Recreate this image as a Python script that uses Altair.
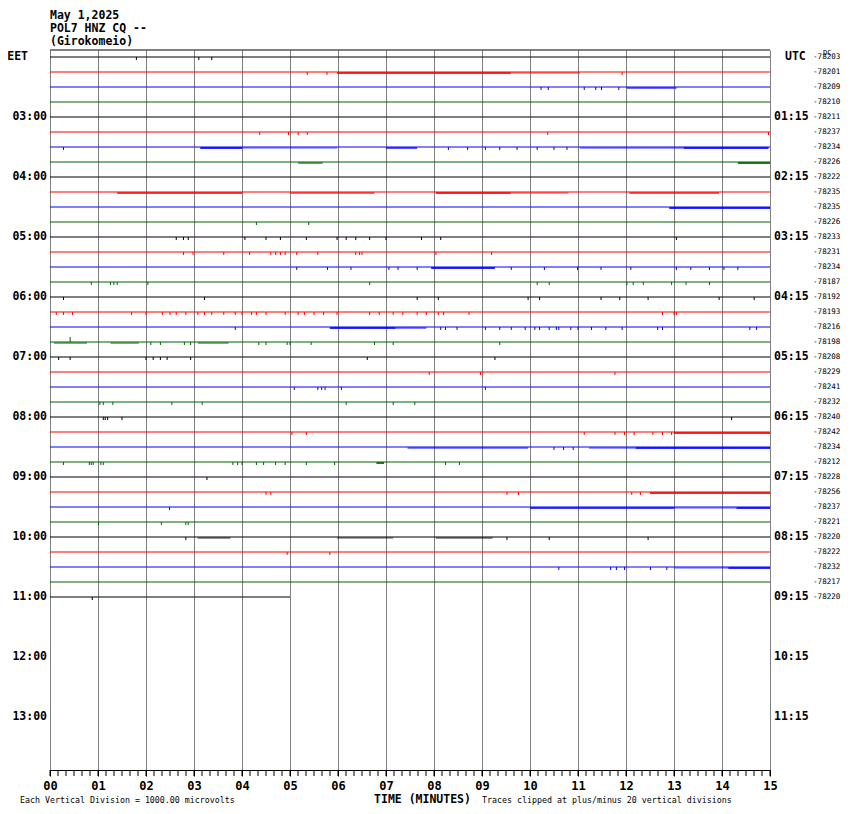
import altair as alt
import pandas as pd
import numpy as np

# ---------------- data ----------------
HEADER = ["May 1,2025", "POL7 HNZ CQ --", "(Girokomeio)"]
EET_HOURS = ["03:00", "04:00", "05:00", "06:00", "07:00", "08:00",
             "09:00", "10:00", "11:00", "12:00", "13:00"]
UTC_HOURS = ["01:15", "02:15", "03:15", "04:15", "05:15", "06:15",
             "07:15", "08:15", "09:15", "10:15", "11:15"]
DC = [-78203, -78201, -78209, -78210, -78211, -78237, -78234, -78226,
      -78222, -78235, -78235, -78226, -78233, -78231, -78234, -78187,
      -78192, -78193, -78216, -78198, -78208, -78229, -78241, -78232,
      -78240, -78242, -78234, -78212, -78228, -78256, -78237, -78221,
      -78220, -78222, -78232, -78217, -78220]
MINUTES = list(range(16))
LAST_TRACE_END = 5.0
TRACE_COLORS = ["black", "red", "blue", "green"]

# noisy stretches: trace row, start minute, end minute, density
SEG_ROW = [1, 1, 2, 6, 6, 6, 6, 6, 7, 7, 9, 9, 9, 9, 9, 10, 14, 18, 18,
           19, 19, 19, 25, 26, 26, 26, 27, 29, 30, 30, 30, 32, 32, 32, 34, 34]
SEG_START = [5.98, 9.6, 12.02, 3.13, 4.0, 7.0, 11.04, 13.2, 5.17, 14.33,
             1.4, 5.0, 8.04, 9.6, 12.07, 12.9, 7.94, 5.83, 7.2,
             0.08, 1.26, 3.08, 13.0, 7.45, 11.23, 12.2, 6.8, 12.5,
             10.0, 13.0, 14.3, 3.08, 5.98, 8.04, 13.0, 14.13]
SEG_END = [9.6, 11.04, 13.05, 4.0, 5.98, 7.65, 13.2, 14.97, 5.68, 15.0,
           4.0, 6.76, 9.6, 10.8, 13.94, 15.0, 9.27, 7.2, 7.84,
           0.77, 1.85, 3.72, 15.0, 9.96, 12.2, 15.0, 6.96, 15.0,
           13.0, 14.3, 15.0, 3.76, 7.15, 9.22, 14.13, 15.0]
SEG_DENSITY = [1.0, 0.5, 0.7, 1.0, 0.4, 0.8, 0.5, 1.0, 0.7, 1.0,
               0.9, 0.7, 1.0, 0.5, 0.8, 1.0, 1.0, 1.0, 0.6,
               0.6, 0.6, 0.6, 1.0, 0.6, 0.5, 1.0, 1.0, 1.0,
               0.9, 0.4, 1.0, 0.5, 0.4, 0.5, 0.4, 1.0]

# isolated spikes: trace row -> minutes
SPIKES = {
    0: [1.8, 3.1, 3.37],
    1: [5.36, 5.77, 11.92],
    2: [10.23, 10.38, 11.13, 11.37, 11.49, 11.85],
    5: [4.37, 4.97, 5.17, 5.36, 10.37, 14.97],
    6: [0.28, 8.3, 8.7, 9.07, 9.37, 9.73, 10.15, 10.5, 10.77],
    11: [4.3, 5.39],
    12: [2.63, 2.78, 2.88, 4.06, 4.5, 4.8, 5.34, 5.98, 6.17, 6.37, 6.66,
         7.0, 7.74, 8.14, 13.05],
    13: [2.78, 2.98, 3.62, 4.16, 4.6, 4.7, 4.8, 4.9, 5.14, 5.58, 6.37,
         6.45, 6.5, 8.04, 9.2],
    14: [5.14, 5.78, 6.27, 7.06, 7.25, 7.65, 9.61, 10.3, 10.99, 11.48,
         12.1, 13.05, 13.35, 13.74, 14.04, 14.33],
    15: [0.86, 1.26, 1.33, 1.4, 2.04, 6.66, 10.15, 10.4, 12.02, 12.15,
         12.36, 12.95, 13.25, 13.74],
    16: [0.28, 3.22, 7.65, 8.09, 9.96, 10.2, 11.48, 11.87, 12.46, 13.94, 14.67],
    17: [0.13, 0.28, 0.47, 1.7, 2.0, 2.34, 2.5, 2.63, 2.83, 3.08, 3.22,
         3.37, 3.62, 3.86, 4.0, 4.2, 4.3, 4.5, 4.9, 5.17, 5.3, 5.5, 5.7,
         5.98, 6.66, 6.86, 7.15, 7.35, 7.65, 7.84, 8.09, 8.2, 8.73,
         12.76, 13.0, 13.05],
    18: [3.86, 8.14, 8.24, 8.48, 9.07, 9.37, 9.61, 9.9, 10.1, 10.2, 10.4,
         10.55, 10.6, 10.85, 11.0, 11.28, 11.58, 11.92, 12.66, 12.76,
         14.58, 14.72],
    19: [2.1, 2.3, 2.8, 2.93, 4.35, 4.5, 4.94, 5.0, 5.44, 6.76, 7.15, 9.37],
    20: [0.18, 0.42, 2.0, 2.15, 2.3, 2.44, 2.93, 6.61, 9.27],
    21: [7.9, 8.97, 11.77],
    22: [5.09, 5.58, 5.66, 5.73, 6.07, 9.07],
    23: [1.04, 1.11, 1.31, 2.54, 3.17, 6.17, 7.15, 7.6],
    24: [1.11, 1.15, 1.2, 1.5, 14.2],
    25: [5.04, 5.34, 11.13, 11.77, 11.97, 12.17, 12.56, 12.76, 12.95],
    26: [10.5, 10.7, 10.9],
    27: [0.28, 0.82, 0.86, 0.9, 1.06, 1.11, 3.81, 3.91, 4.0, 4.3, 4.45,
         4.7, 4.9, 5.34, 5.93, 8.24, 8.53],
    28: [3.27],
    29: [4.5, 4.6, 9.52, 9.76, 12.12, 12.3],
    30: [2.49],
    31: [1.01, 2.32, 2.83, 2.88],
    32: [2.83, 9.52, 10.4, 12.46],
    33: [4.94, 5.83],
    34: [10.6, 11.68, 11.8, 11.97, 12.51, 12.85],
    36: [0.88],
}
UP_SPIKES = {19: [0.42]}

FOOT_LEFT = "Each Vertical Division = 1000.00 microvolts"
FOOT_RIGHT = "Traces clipped at plus/minus 20 vertical divisions"

# ---------------- layout / styles ----------------
W, H = 720, 720
PX = 1 / 60.0                 # one pixel in hour units (60 px per hour)
Y0, Y1 = -7 * PX, 713 * PX
FONT = "DejaVu Sans Mono"
GRID = "#808080"

xs = alt.Scale(domain=[0, 15], nice=False, zero=False)
ys = alt.Scale(domain=[Y0, Y1], reverse=True, nice=False, zero=False)
cs = alt.Scale(domain=TRACE_COLORS,
               range=["#000000", "#ff0000", "#0000ff", "#006400"])

xaxis = alt.Axis(values=MINUTES,
                 labelExpr="datum.value < 10 ? '0' + datum.value : '' + datum.value",
                 grid=True, gridColor=GRID, gridOpacity=1, gridWidth=1,
                 domainColor="#000000", domainWidth=1,
                 tickColor="#000000", tickSize=6, ticks=True,
                 labelFont=FONT, labelFontWeight="bold", labelFontSize=12,
                 labelColor="#000000", labelPadding=4, labelAngle=0,
                 labelFlush=False, labelOverlap=False,
                 title="TIME (MINUTES)", titleFont=FONT, titleFontSize=11.5,
                 titleFontWeight="bold", titleColor="#000000",
                 titleX=372, titleY=29, titleAlign="center",
                 titleBaseline="middle")

n = len(DC)
traces = pd.DataFrame({
    "row": range(n),
    "h": [i / 4 for i in range(n)],
    "m": 0.0,
    "m2": [15.0] * (n - 1) + [LAST_TRACE_END],
    "m15": 15.0,
    "kind": [TRACE_COLORS[i % 4] for i in range(n)],
    "dc": [str(v) for v in DC],
})

segs = pd.DataFrame({"row": SEG_ROW, "m": SEG_START, "m2": SEG_END,
                     "dens": SEG_DENSITY})
segs["h"] = segs["row"] / 4
segs["h2"] = segs["h"] + 2 * PX
segs["kind"] = [TRACE_COLORS[r % 4] for r in segs["row"]]

sp = [(r, m) for r, ms in SPIKES.items() for m in ms]
spikes = pd.DataFrame(sp, columns=["row", "m"])
spikes["h"] = spikes["row"] / 4
spikes["h2"] = spikes["h"] + 3 * PX
spikes["kind"] = [TRACE_COLORS[r % 4] for r in spikes["row"]]

up = pd.DataFrame([(r, m) for r, ms in UP_SPIKES.items() for m in ms],
                  columns=["row", "m"])
up["h"] = up["row"] / 4
up["h2"] = up["h"] - 5 * PX
up["kind"] = [TRACE_COLORS[r % 4] for r in up["row"]]

hours = pd.DataFrame({"h": list(range(1, 12)), "eet": EET_HOURS,
                      "utc": UTC_HOURS, "m0": 0.0, "m15": 15.0})
minor = pd.DataFrame({"m": np.arange(0, 90 + 1) / 6.0})
frame = pd.DataFrame({"m": [0.0], "m2": [15.0], "h": [Y0]})

X = lambda f="m": alt.X(f"{f}:Q", scale=xs, axis=xaxis)
Y = lambda f="h": alt.Y(f"{f}:Q", scale=ys, axis=None)
C = alt.Color("kind:N", scale=cs, legend=None)

lines = alt.Chart(traces).mark_rule(strokeWidth=1.2).encode(
    x=X(), x2="m2:Q", y=Y(), color=C)

top = alt.Chart(frame).mark_rule(strokeWidth=1, color="#000000").encode(
    x=X(), x2="m2:Q", y=Y())

segl = alt.Chart(segs).mark_rect().encode(
    x=X(), x2="m2:Q", y=Y(), y2="h2:Q", color=C,
    opacity=alt.Opacity("dens:Q", scale=alt.Scale(domain=[0, 1], range=[0, 0.85]),
                        legend=None))

spl = alt.Chart(spikes).mark_rule(strokeWidth=1).encode(
    x=X(), y=Y(), y2="h2:Q", color=C)
upl = alt.Chart(up).mark_rule(strokeWidth=1).encode(
    x=X(), y=Y(), y2="h2:Q", color=C)

minor_ticks = alt.Chart(minor).mark_rule(color="#000000", strokeWidth=1).encode(
    x=X(), y=alt.value(H), y2=alt.value(H + 6))

big = dict(font=FONT, fontWeight="bold", fontSize=11.5, color="#000000",
           baseline="middle")
eet = alt.Chart(hours).mark_text(align="right", dx=-3, **big).encode(
    x=X("m0"), y=Y(), text="eet:N")
utc = alt.Chart(hours).mark_text(align="left", dx=4, **big).encode(
    x=X("m15"), y=Y(), text="utc:N")

corner = pd.DataFrame({"m0": [0.0], "m15": [15.0], "h": [0.0],
                       "a": ["EET"], "b": ["UTC"], "hd": [-4 * PX], "c": ["DC"]})
eet_t = alt.Chart(corner).mark_text(align="right", dx=-22, **big).encode(
    x=X("m0"), y=Y(), text="a:N")
utc_t = alt.Chart(corner).mark_text(align="left", dx=15, **big).encode(
    x=X("m15"), y=Y(), text="b:N")
dc_t = alt.Chart(corner).mark_text(align="left", dx=53, font=FONT, fontSize=7,
                                   color="#000000", baseline="middle").encode(
    x=X("m15"), y=Y("hd"), text="c:N")

dcl = alt.Chart(traces).mark_text(
    align="left", dx=43, font=FONT, fontSize=7.6, color="#000000",
    baseline="middle").encode(x=X("m15"), y=Y(), text="dc:N")

header_layers = [
    alt.Chart(pd.DataFrame({"t": [t]})).mark_text(align="left", **big).encode(
        x=alt.value(0), y=alt.value(yy), text="t:N")
    for t, yy in zip(HEADER, [-34, -21, -8])
]

small = dict(font=FONT, fontSize=8.3, color="#000000", baseline="middle",
             align="left")
foot1 = alt.Chart(pd.DataFrame({"t": [FOOT_LEFT]})).mark_text(**small).encode(
    x=alt.value(-30), y=alt.value(751), text="t:N")
foot2 = alt.Chart(pd.DataFrame({"t": [FOOT_RIGHT]})).mark_text(**small).encode(
    x=alt.value(432), y=alt.value(751), text="t:N")

chart = alt.layer(
    lines, top, segl, spl, upl, minor_ticks, eet, utc, eet_t, utc_t, dc_t,
    dcl, *header_layers, foot1, foot2
).properties(
    width=W, height=H,
    autosize=alt.AutoSizeParams(type="none"),
    padding={"left": 42, "top": 42, "right": 72, "bottom": 36},
    background="#ffffff",
).configure_view(stroke=None)

chart.save("out.html", embed_options={"renderer": "svg", "actions": False})
